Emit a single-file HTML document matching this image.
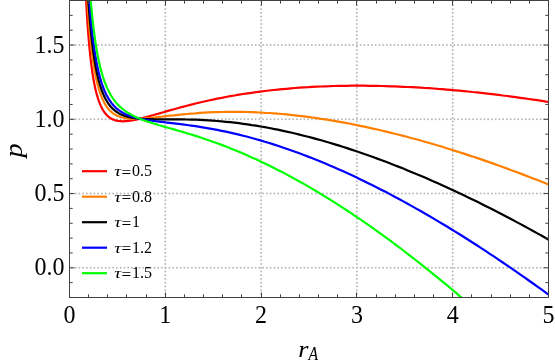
<!DOCTYPE html>
<html><head><meta charset="utf-8"><title>p vs r_A</title>
<style>
html,body{margin:0;padding:0;background:#fff;}
svg{display:block;font-family:"Liberation Serif","DejaVu Serif",serif;will-change:transform;}
.tk{font-size:24px;fill:#000;}
.lg{font-size:16px;fill:#000;}
.ax{font-size:25px;fill:#000;font-style:italic;}
</style></head><body>
<svg width="555" height="364" viewBox="0 0 555 364">
<rect width="555" height="364" fill="#fff"/>
<defs><clipPath id="c"><rect x="69.5" y="0" width="479.0" height="297.5"/></clipPath></defs>
<g stroke="#b8b8b8" stroke-width="1.9" stroke-linecap="round" stroke-dasharray="0 3.75" fill="none">
<line x1="165.30" y1="294.05" x2="165.30" y2="0.50"/>
<line x1="261.10" y1="294.05" x2="261.10" y2="0.50"/>
<line x1="356.90" y1="294.05" x2="356.90" y2="0.50"/>
<line x1="452.70" y1="294.05" x2="452.70" y2="0.50"/>
<line x1="71.9" y1="267.80" x2="548.50" y2="267.80"/>
<line x1="71.9" y1="193.55" x2="548.50" y2="193.55"/>
<line x1="71.9" y1="119.30" x2="548.50" y2="119.30"/>
<line x1="71.9" y1="45.05" x2="548.50" y2="45.05"/>
</g>
<g clip-path="url(#c)" fill="none" stroke-width="2.2" stroke-linejoin="round">
<path stroke="#ff0000" d="M84.4,-37.1L85.0,-22.4L85.6,-9.3L86.2,2.3L86.8,12.7L87.4,22.1L88.0,30.5L88.6,38.1L89.2,45.0L89.8,51.2L90.4,56.9L91.0,62.1L91.6,66.8L92.2,71.1L92.8,75.1L93.4,78.7L94.0,82.0L94.6,85.1L95.2,87.9L95.8,90.5L96.4,92.9L97.0,95.1L97.6,97.2L98.2,99.1L98.8,100.9L99.4,102.5L100.0,104.0L100.6,105.4L101.2,106.7L101.8,107.9L102.4,109.0L103.0,110.1L103.6,111.0L104.2,111.9L104.8,112.8L105.4,113.5L106.0,114.2L106.6,114.9L107.2,115.5L107.8,116.1L108.4,116.6L109.0,117.1L109.6,117.5L110.2,118.0L110.8,118.3L111.4,118.7L112.0,119.0L112.6,119.3L113.2,119.6L113.8,119.8L114.4,120.0L115.0,120.2L115.6,120.4L116.2,120.6L116.8,120.7L117.4,120.8L118.6,121.0L119.9,121.2L121.1,121.2L122.3,121.3L123.5,121.3L124.8,121.2L126.0,121.1L127.2,121.0L128.5,120.9L129.7,120.7L130.9,120.6L132.1,120.3L133.4,120.1L134.6,119.9L135.8,119.6L137.1,119.4L138.3,119.1L139.5,118.8L140.7,118.5L142.0,118.2L143.2,117.9L144.4,117.5L145.6,117.2L146.9,116.9L148.1,116.6L149.3,116.2L150.6,115.9L151.8,115.5L153.0,115.2L154.2,114.8L155.5,114.5L156.7,114.1L157.9,113.8L159.2,113.4L160.4,113.1L161.6,112.7L162.8,112.4L164.1,112.0L165.3,111.6L169.6,110.4L174.0,109.2L178.3,108.0L182.6,106.9L186.9,105.7L191.3,104.6L195.6,103.5L199.9,102.5L204.2,101.5L208.6,100.5L212.9,99.6L217.2,98.7L221.6,97.9L225.9,97.0L230.2,96.2L234.5,95.5L238.9,94.7L243.2,94.0L247.5,93.4L251.8,92.8L256.2,92.2L260.5,91.6L264.8,91.0L269.2,90.5L273.5,90.0L277.8,89.6L282.1,89.2L286.5,88.8L290.8,88.4L295.1,88.0L299.4,87.7L303.8,87.4L308.1,87.2L312.4,86.9L316.8,86.7L321.1,86.5L325.4,86.3L329.7,86.2L334.1,86.0L338.4,85.9L342.7,85.8L347.0,85.8L351.4,85.7L355.7,85.7L360.0,85.7L364.3,85.7L368.7,85.8L373.0,85.8L377.3,85.9L381.7,86.0L386.0,86.1L390.3,86.3L394.6,86.4L399.0,86.6L403.3,86.8L407.6,87.0L411.9,87.2L416.3,87.4L420.6,87.7L424.9,88.0L429.3,88.2L433.6,88.5L437.9,88.9L442.2,89.2L446.6,89.6L450.9,89.9L455.2,90.3L459.5,90.7L463.9,91.1L468.2,91.5L472.5,92.0L476.9,92.4L481.2,92.9L485.5,93.4L489.8,93.9L494.2,94.4L498.5,94.9L502.8,95.5L507.1,96.0L511.5,96.6L515.8,97.2L520.1,97.8L524.5,98.4L528.8,99.0L533.1,99.6L537.4,100.2L541.8,100.9L546.1,101.6L550.4,102.2"/>
<path stroke="#ff8000" d="M85.6,-33.5L86.2,-20.9L86.8,-9.6L87.4,0.6L88.0,9.7L88.6,18.1L89.2,25.6L89.8,32.5L90.4,38.8L91.0,44.5L91.6,49.8L92.2,54.6L92.8,59.1L93.4,63.2L94.0,67.0L94.6,70.5L95.2,73.7L95.8,76.7L96.4,79.5L97.0,82.1L97.6,84.5L98.2,86.8L98.8,88.9L99.4,90.8L100.0,92.6L100.6,94.3L101.2,95.9L101.8,97.4L102.4,98.8L103.0,100.1L103.6,101.4L104.2,102.5L104.8,103.6L105.4,104.6L106.0,105.6L106.6,106.5L107.2,107.3L107.8,108.1L108.4,108.8L109.0,109.5L109.6,110.2L110.2,110.8L110.8,111.4L111.4,111.9L112.0,112.4L112.6,112.9L113.2,113.3L113.8,113.8L114.4,114.2L115.0,114.5L115.6,114.9L116.2,115.2L116.8,115.5L117.4,115.8L118.6,116.3L119.9,116.8L121.1,117.2L122.3,117.5L123.5,117.8L124.8,118.1L126.0,118.3L127.2,118.4L128.5,118.6L129.7,118.7L130.9,118.7L132.1,118.8L133.4,118.8L134.6,118.8L135.8,118.8L137.1,118.8L138.3,118.8L139.5,118.7L140.7,118.7L142.0,118.6L143.2,118.5L144.4,118.4L145.6,118.3L146.9,118.2L148.1,118.1L149.3,118.0L150.6,117.9L151.8,117.7L153.0,117.6L154.2,117.5L155.5,117.4L156.7,117.2L157.9,117.1L159.2,116.9L160.4,116.8L161.6,116.7L162.8,116.5L164.1,116.4L165.3,116.2L169.6,115.7L174.0,115.3L178.3,114.8L182.6,114.4L186.9,114.0L191.3,113.6L195.6,113.3L199.9,112.9L204.2,112.7L208.6,112.4L212.9,112.2L217.2,112.1L221.6,112.0L225.9,111.9L230.2,111.8L234.5,111.8L238.9,111.8L243.2,111.9L247.5,112.0L251.8,112.1L256.2,112.3L260.5,112.5L264.8,112.8L269.2,113.0L273.5,113.3L277.8,113.7L282.1,114.0L286.5,114.4L290.8,114.9L295.1,115.3L299.4,115.8L303.8,116.4L308.1,116.9L312.4,117.5L316.8,118.1L321.1,118.8L325.4,119.4L329.7,120.1L334.1,120.9L338.4,121.6L342.7,122.4L347.0,123.2L351.4,124.0L355.7,124.9L360.0,125.8L364.3,126.7L368.7,127.6L373.0,128.6L377.3,129.5L381.7,130.5L386.0,131.6L390.3,132.6L394.6,133.7L399.0,134.8L403.3,135.9L407.6,137.0L411.9,138.2L416.3,139.3L420.6,140.5L424.9,141.8L429.3,143.0L433.6,144.3L437.9,145.5L442.2,146.8L446.6,148.2L450.9,149.5L455.2,150.9L459.5,152.2L463.9,153.6L468.2,155.1L472.5,156.5L476.9,157.9L481.2,159.4L485.5,160.9L489.8,162.4L494.2,163.9L498.5,165.5L502.8,167.0L507.1,168.6L511.5,170.2L515.8,171.8L520.1,173.4L524.5,175.1L528.8,176.7L533.1,178.4L537.4,180.1L541.8,181.8L546.1,183.5L550.4,185.3"/>
<path stroke="#000000" d="M86.2,-36.4L86.8,-24.5L87.4,-13.8L88.0,-4.1L88.6,4.7L89.2,12.7L89.8,20.0L90.4,26.7L91.0,32.8L91.6,38.5L92.2,43.6L92.8,48.4L93.4,52.9L94.0,56.9L94.6,60.7L95.2,64.3L95.8,67.5L96.4,70.6L97.0,73.4L97.6,76.1L98.2,78.6L98.8,80.9L99.4,83.0L100.0,85.1L100.6,87.0L101.2,88.8L101.8,90.5L102.4,92.0L103.0,93.5L103.6,94.9L104.2,96.2L104.8,97.5L105.4,98.7L106.0,99.8L106.6,100.8L107.2,101.8L107.8,102.7L108.4,103.6L109.0,104.5L109.6,105.2L110.2,106.0L110.8,106.7L111.4,107.4L112.0,108.0L112.6,108.6L113.2,109.2L113.8,109.7L114.4,110.2L115.0,110.7L115.6,111.2L116.2,111.6L116.8,112.0L117.4,112.4L118.6,113.2L119.9,113.9L121.1,114.5L122.3,115.0L123.5,115.5L124.8,115.9L126.0,116.3L127.2,116.7L128.5,117.0L129.7,117.3L130.9,117.5L132.1,117.8L133.4,118.0L134.6,118.1L135.8,118.3L137.1,118.5L138.3,118.6L139.5,118.7L140.7,118.8L142.0,118.9L143.2,118.9L144.4,119.0L145.6,119.1L146.9,119.1L148.1,119.1L149.3,119.2L150.6,119.2L151.8,119.2L153.0,119.2L154.2,119.3L155.5,119.3L156.7,119.3L157.9,119.3L159.2,119.3L160.4,119.3L161.6,119.3L162.8,119.3L164.1,119.3L165.3,119.3L169.6,119.3L174.0,119.3L178.3,119.3L182.6,119.4L186.9,119.5L191.3,119.6L195.6,119.7L199.9,119.9L204.2,120.1L208.6,120.4L212.9,120.7L217.2,121.0L221.6,121.4L225.9,121.8L230.2,122.2L234.5,122.7L238.9,123.2L243.2,123.8L247.5,124.4L251.8,125.1L256.2,125.7L260.5,126.5L264.8,127.2L269.2,128.0L273.5,128.9L277.8,129.7L282.1,130.6L286.5,131.6L290.8,132.5L295.1,133.5L299.4,134.6L303.8,135.7L308.1,136.8L312.4,137.9L316.8,139.1L321.1,140.3L325.4,141.5L329.7,142.8L334.1,144.1L338.4,145.4L342.7,146.8L347.0,148.1L351.4,149.6L355.7,151.0L360.0,152.5L364.3,154.0L368.7,155.5L373.0,157.0L377.3,158.6L381.7,160.2L386.0,161.8L390.3,163.5L394.6,165.2L399.0,166.9L403.3,168.6L407.6,170.4L411.9,172.2L416.3,174.0L420.6,175.8L424.9,177.6L429.3,179.5L433.6,181.4L437.9,183.3L442.2,185.3L446.6,187.2L450.9,189.2L455.2,191.2L459.5,193.3L463.9,195.3L468.2,197.4L472.5,199.5L476.9,201.6L481.2,203.8L485.5,205.9L489.8,208.1L494.2,210.3L498.5,212.5L502.8,214.8L507.1,217.0L511.5,219.3L515.8,221.6L520.1,223.9L524.5,226.2L528.8,228.6L533.1,231.0L537.4,233.4L541.8,235.8L546.1,238.2L550.4,240.7"/>
<path stroke="#0000ff" d="M86.8,-39.4L87.4,-28.2L88.0,-18.0L88.6,-8.7L89.2,-0.2L89.8,7.5L90.4,14.6L91.0,21.1L91.6,27.1L92.2,32.7L92.8,37.8L93.4,42.5L94.0,46.9L94.6,51.0L95.2,54.8L95.8,58.3L96.4,61.7L97.0,64.7L97.6,67.6L98.2,70.3L98.8,72.9L99.4,75.3L100.0,77.5L100.6,79.6L101.2,81.6L101.8,83.5L102.4,85.2L103.0,86.9L103.6,88.5L104.2,90.0L104.8,91.4L105.4,92.7L106.0,94.0L106.6,95.2L107.2,96.3L107.8,97.4L108.4,98.4L109.0,99.4L109.6,100.3L110.2,101.2L110.8,102.0L111.4,102.8L112.0,103.6L112.6,104.3L113.2,105.0L113.8,105.7L114.4,106.3L115.0,106.9L115.6,107.5L116.2,108.1L116.8,108.6L117.4,109.1L118.6,110.1L119.9,110.9L121.1,111.8L122.3,112.5L123.5,113.2L124.8,113.8L126.0,114.4L127.2,114.9L128.5,115.4L129.7,115.9L130.9,116.3L132.1,116.7L133.4,117.1L134.6,117.5L135.8,117.8L137.1,118.1L138.3,118.4L139.5,118.6L140.7,118.9L142.0,119.1L143.2,119.4L144.4,119.6L145.6,119.8L146.9,120.0L148.1,120.2L149.3,120.4L150.6,120.5L151.8,120.7L153.0,120.9L154.2,121.0L155.5,121.2L156.7,121.3L157.9,121.5L159.2,121.6L160.4,121.8L161.6,121.9L162.8,122.1L164.1,122.2L165.3,122.4L169.6,122.9L174.0,123.4L178.3,123.9L182.6,124.4L186.9,125.0L191.3,125.6L195.6,126.2L199.9,126.9L204.2,127.6L208.6,128.3L212.9,129.1L217.2,129.9L221.6,130.8L225.9,131.7L230.2,132.6L234.5,133.6L238.9,134.6L243.2,135.7L247.5,136.8L251.8,138.0L256.2,139.2L260.5,140.4L264.8,141.7L269.2,143.0L273.5,144.4L277.8,145.8L282.1,147.2L286.5,148.7L290.8,150.2L295.1,151.8L299.4,153.3L303.8,155.0L308.1,156.6L312.4,158.3L316.8,160.0L321.1,161.8L325.4,163.6L329.7,165.4L334.1,167.3L338.4,169.2L342.7,171.1L347.0,173.1L351.4,175.1L355.7,177.1L360.0,179.2L364.3,181.2L368.7,183.4L373.0,185.5L377.3,187.7L381.7,189.9L386.0,192.1L390.3,194.4L394.6,196.7L399.0,199.0L403.3,201.4L407.6,203.7L411.9,206.1L416.3,208.6L420.6,211.0L424.9,213.5L429.3,216.0L433.6,218.6L437.9,221.1L442.2,223.7L446.6,226.3L450.9,229.0L455.2,231.6L459.5,234.3L463.9,237.0L468.2,239.7L472.5,242.5L476.9,245.3L481.2,248.1L485.5,250.9L489.8,253.8L494.2,256.7L498.5,259.6L502.8,262.5L507.1,265.4L511.5,268.4L515.8,271.4L520.1,274.4L524.5,277.4L528.8,280.5L533.1,283.5L537.4,286.6L541.8,289.7L546.1,292.9L550.4,296.0"/>
<path stroke="#00ff00" d="M88.0,-38.8L88.6,-28.7L89.2,-19.6L89.8,-11.2L90.4,-3.5L91.0,3.6L91.6,10.1L92.2,16.2L92.8,21.8L93.4,27.0L94.0,31.9L94.6,36.4L95.2,40.6L95.8,44.6L96.4,48.3L97.0,51.7L97.6,55.0L98.2,58.0L98.8,60.9L99.4,63.6L100.0,66.2L100.6,68.6L101.2,70.8L101.8,73.0L102.4,75.0L103.0,77.0L103.6,78.8L104.2,80.6L104.8,82.2L105.4,83.8L106.0,85.3L106.6,86.7L107.2,88.1L107.8,89.4L108.4,90.6L109.0,91.8L109.6,92.9L110.2,94.0L110.8,95.1L111.4,96.1L112.0,97.0L112.6,97.9L113.2,98.8L113.8,99.6L114.4,100.5L115.0,101.2L115.6,102.0L116.2,102.7L116.8,103.4L117.4,104.1L118.6,105.4L119.9,106.6L121.1,107.7L122.3,108.7L123.5,109.7L124.8,110.6L126.0,111.5L127.2,112.3L128.5,113.1L129.7,113.8L130.9,114.5L132.1,115.2L133.4,115.8L134.6,116.4L135.8,117.0L137.1,117.5L138.3,118.1L139.5,118.6L140.7,119.1L142.0,119.6L143.2,120.0L144.4,120.5L145.6,120.9L146.9,121.3L148.1,121.7L149.3,122.1L150.6,122.5L151.8,122.9L153.0,123.3L154.2,123.7L155.5,124.1L156.7,124.4L157.9,124.8L159.2,125.2L160.4,125.5L161.6,125.9L162.8,126.2L164.1,126.6L165.3,127.0L169.6,128.2L174.0,129.4L178.3,130.7L182.6,131.9L186.9,133.2L191.3,134.5L195.6,135.9L199.9,137.3L204.2,138.7L208.6,140.2L212.9,141.7L217.2,143.3L221.6,144.9L225.9,146.5L230.2,148.2L234.5,150.0L238.9,151.7L243.2,153.6L247.5,155.5L251.8,157.4L256.2,159.3L260.5,161.4L264.8,163.4L269.2,165.5L273.5,167.7L277.8,169.9L282.1,172.1L286.5,174.4L290.8,176.7L295.1,179.1L299.4,181.5L303.8,183.9L308.1,186.4L312.4,188.9L316.8,191.5L321.1,194.1L325.4,196.7L329.7,199.4L334.1,202.1L338.4,204.9L342.7,207.7L347.0,210.5L351.4,213.4L355.7,216.3L360.0,219.2L364.3,222.2L368.7,225.2L373.0,228.2L377.3,231.3L381.7,234.4L386.0,237.6L390.3,240.7L394.6,244.0L399.0,247.2L403.3,250.5L407.6,253.8L411.9,257.1L416.3,260.5L420.6,263.9L424.9,267.3L429.3,270.8L433.6,274.3L437.9,277.8L442.2,281.3L446.6,284.9L450.9,288.5L455.2,292.2L459.5,295.8L463.9,299.5L468.2,303.3L472.5,307.0L476.9,310.8L481.2,314.6L485.5,318.4L489.8,322.3L494.2,326.2"/>
</g>
<g stroke="#404040" stroke-width="1" fill="none">
<path d="M69.5,297.5v-5.0M69.5,0.5v5.0M88.5,297.5v-3.2M88.5,0.5v3.2M107.5,297.5v-3.2M107.5,0.5v3.2M126.5,297.5v-3.2M126.5,0.5v3.2M146.5,297.5v-3.2M146.5,0.5v3.2M165.5,297.5v-5.0M165.5,0.5v5.0M184.5,297.5v-3.2M184.5,0.5v3.2M203.5,297.5v-3.2M203.5,0.5v3.2M222.5,297.5v-3.2M222.5,0.5v3.2M241.5,297.5v-3.2M241.5,0.5v3.2M261.5,297.5v-5.0M261.5,0.5v5.0M280.5,297.5v-3.2M280.5,0.5v3.2M299.5,297.5v-3.2M299.5,0.5v3.2M318.5,297.5v-3.2M318.5,0.5v3.2M337.5,297.5v-3.2M337.5,0.5v3.2M356.5,297.5v-5.0M356.5,0.5v5.0M376.5,297.5v-3.2M376.5,0.5v3.2M395.5,297.5v-3.2M395.5,0.5v3.2M414.5,297.5v-3.2M414.5,0.5v3.2M433.5,297.5v-3.2M433.5,0.5v3.2M452.5,297.5v-5.0M452.5,0.5v5.0M471.5,297.5v-3.2M471.5,0.5v3.2M491.5,297.5v-3.2M491.5,0.5v3.2M510.5,297.5v-3.2M510.5,0.5v3.2M529.5,297.5v-3.2M529.5,0.5v3.2M548.5,297.5v-5.0M548.5,0.5v5.0M69.5,297.50h3.2M548.5,297.50h-3.2M69.5,282.65h3.2M548.5,282.65h-3.2M69.5,267.80h5.0M548.5,267.80h-5.0M69.5,252.95h3.2M548.5,252.95h-3.2M69.5,238.10h3.2M548.5,238.10h-3.2M69.5,223.25h3.2M548.5,223.25h-3.2M69.5,208.40h3.2M548.5,208.40h-3.2M69.5,193.55h5.0M548.5,193.55h-5.0M69.5,178.70h3.2M548.5,178.70h-3.2M69.5,163.85h3.2M548.5,163.85h-3.2M69.5,149.00h3.2M548.5,149.00h-3.2M69.5,134.15h3.2M548.5,134.15h-3.2M69.5,119.30h5.0M548.5,119.30h-5.0M69.5,104.45h3.2M548.5,104.45h-3.2M69.5,89.60h3.2M548.5,89.60h-3.2M69.5,74.75h3.2M548.5,74.75h-3.2M69.5,59.90h3.2M548.5,59.90h-3.2M69.5,45.05h5.0M548.5,45.05h-5.0M69.5,30.20h3.2M548.5,30.20h-3.2M69.5,15.35h3.2M548.5,15.35h-3.2M69.5,0.50h3.2M548.5,0.50h-3.2"/>
<rect x="69.5" y="0.5" width="479.0" height="297.00"/>
</g>
<text class="tk" transform="translate(69.50,322.9) scale(1,1.075)" text-anchor="middle">0</text>
<text class="tk" transform="translate(165.30,322.9) scale(1,1.075)" text-anchor="middle">1</text>
<text class="tk" transform="translate(261.10,322.9) scale(1,1.075)" text-anchor="middle">2</text>
<text class="tk" transform="translate(356.90,322.9) scale(1,1.075)" text-anchor="middle">3</text>
<text class="tk" transform="translate(452.70,322.9) scale(1,1.075)" text-anchor="middle">4</text>
<text class="tk" transform="translate(548.50,322.9) scale(1,1.075)" text-anchor="middle">5</text>
<text class="tk" transform="translate(64.5,275.30) scale(1,1.07)" text-anchor="end">0.0</text>
<text class="tk" transform="translate(64.5,201.05) scale(1,1.07)" text-anchor="end">0.5</text>
<text class="tk" transform="translate(64.5,126.80) scale(1,1.07)" text-anchor="end">1.0</text>
<text class="tk" transform="translate(64.5,52.55) scale(1,1.07)" text-anchor="end">1.5</text>
<text class="ax" transform="translate(22.3,150.4) rotate(-90) scale(1.13,1)" text-anchor="middle">p</text>
<text class="ax" transform="translate(298.2,356.8) scale(1.05,0.9)">r</text>
<text class="ax" style="font-size:17.5px" transform="translate(308.6,360.4) scale(0.9,1.1)">A</text>
<line x1="82" y1="171.2" x2="107" y2="171.2" stroke="#ff0000" stroke-width="2.2"/>
<text class="lg" font-style="italic" transform="translate(114.2,176.0) scale(1.2,0.86)">τ</text>
<text class="lg" transform="translate(121.5,177.9) scale(1.08,1)">=</text>
<text class="lg" transform="translate(131.9,176.0) scale(1,1.03)">0.5</text>
<line x1="82" y1="196.7" x2="107" y2="196.7" stroke="#ff8000" stroke-width="2.2"/>
<text class="lg" font-style="italic" transform="translate(114.2,201.5) scale(1.2,0.86)">τ</text>
<text class="lg" transform="translate(121.5,203.4) scale(1.08,1)">=</text>
<text class="lg" transform="translate(131.9,201.5) scale(1,1.03)">0.8</text>
<line x1="82" y1="222.2" x2="107" y2="222.2" stroke="#000000" stroke-width="2.2"/>
<text class="lg" font-style="italic" transform="translate(114.2,227.0) scale(1.2,0.86)">τ</text>
<text class="lg" transform="translate(121.5,228.9) scale(1.08,1)">=</text>
<text class="lg" transform="translate(131.9,227.0) scale(1,1.03)">1</text>
<line x1="82" y1="247.7" x2="107" y2="247.7" stroke="#0000ff" stroke-width="2.2"/>
<text class="lg" font-style="italic" transform="translate(114.2,252.5) scale(1.2,0.86)">τ</text>
<text class="lg" transform="translate(121.5,254.4) scale(1.08,1)">=</text>
<text class="lg" transform="translate(131.9,252.5) scale(1,1.03)">1.2</text>
<line x1="82" y1="273.2" x2="107" y2="273.2" stroke="#00ff00" stroke-width="2.2"/>
<text class="lg" font-style="italic" transform="translate(114.2,278.0) scale(1.2,0.86)">τ</text>
<text class="lg" transform="translate(121.5,279.9) scale(1.08,1)">=</text>
<text class="lg" transform="translate(131.9,278.0) scale(1,1.03)">1.5</text>
</svg></body></html>
